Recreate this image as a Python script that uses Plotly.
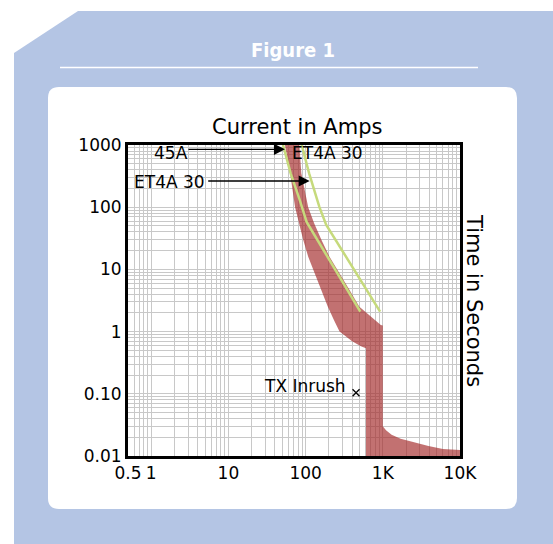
import numpy as np
import plotly.graph_objects as go

# ---------------- data ----------------
band_current = [54, 63, 73, 82, 93, 108, 131, 160, 194, 235, 275, 400, 520, 605, 605,
                10000, 10000, 6000, 3900, 2400, 1700, 1300, 1100, 1000, 1000, 942,
                497, 369, 275, 204, 160, 129, 108, 88, 83]
band_time = [1000, 350, 100, 55, 30, 16, 8.6, 4.7, 2.5, 1.5, 1.0, 0.70, 0.58, 0.54, 0.01,
             0.01, 0.0125, 0.013, 0.0145, 0.017, 0.019, 0.022, 0.026, 0.03, 1.25, 1.28,
             2.5, 4.7, 8.6, 16, 30, 55, 100, 350, 1000]

curve_a_current = [51, 64, 84, 103, 511]
curve_a_time = [1000, 350, 130, 58, 2.1]
curve_b_current = [89, 111, 151, 185, 922]
curve_b_time = [1000, 350, 100, 52, 2.1]

inrush_current = [450]
inrush_time = [0.104]

x_tick_vals = [0.5, 1, 10, 100, 1000, 10000]
x_tick_text = ["0.5", "1", "10", "100", "1K", "10K"]
y_tick_vals = [0.01, 0.1, 1, 10, 100, 1000]
y_tick_text = ["0.01", "0.10", "1", "10", "100", "1000"]

label_texts = ["45A", "ET4A 30", "ET4A 30", "TX Inrush"]
label_current = [1.79, 62.7, 5.35, 352]
label_time = [751, 735, 257, 0.133]
label_anchor = ["center", "left", "right", "right"]

arrow_current = [54, 113]
arrow_time = [851, 264]
arrow_tail_px = [-98, -103]

# ---------------- layout geometry ----------------
W, H = 553, 544
L, R, T, B = 128, 460, 145, 456


def px(x, y):
    return (x - L) / (R - L), (B - y) / (B - T)


def path(points):
    s = ""
    for cmd, x, y in points:
        xp, yp = px(x, y)
        s += f"{cmd}{xp:.5f},{yp:.5f} "
    return s + "Z"


def rounded_rect(x0, y0, x1, y1, r):
    def P(x, y):
        xp, yp = px(x, y)
        return f"{xp:.5f},{yp:.5f}"
    s = f"M{P(x0 + r, y0)} L{P(x1 - r, y0)} Q{P(x1, y0)} {P(x1, y0 + r)} "
    s += f"L{P(x1, y1 - r)} Q{P(x1, y1)} {P(x1 - r, y1)} "
    s += f"L{P(x0 + r, y1)} Q{P(x0, y1)} {P(x0, y1 - r)} "
    s += f"L{P(x0, y0 + r)} Q{P(x0, y0)} {P(x0 + r, y0)} Z"
    return s


BLUE = "#b4c5e4"
FONT = "DejaVu Sans"

fig = go.Figure()

fig.add_trace(go.Scatter(
    x=band_current, y=band_time, mode="lines", fill="toself",
    fillcolor="rgba(165,45,45,0.68)", line=dict(width=0), hoverinfo="skip",
    showlegend=False))

for cx, cy in [(curve_a_current, curve_a_time), (curve_b_current, curve_b_time)]:
    fig.add_trace(go.Scatter(x=cx, y=cy, mode="lines",
                             line=dict(color="#c6da7c", width=2.5),
                             showlegend=False, hoverinfo="skip"))

fig.add_trace(go.Scatter(x=inrush_current, y=inrush_time, mode="markers",
                         marker=dict(symbol="x-thin", size=7,
                                     line=dict(color="black", width=1.3)),
                         showlegend=False, hoverinfo="skip"))

shapes = [
    dict(type="path", xref="paper", yref="paper", layer="below",
         path=path([("M", 14, 53), ("L", 78, 11), ("L", 560, 11),
                    ("L", 560, 550), ("L", 14, 550)]),
         fillcolor=BLUE, line=dict(width=0)),
    dict(type="path", xref="paper", yref="paper", layer="below",
         path=rounded_rect(48, 87, 517, 509, 11),
         fillcolor="white", line=dict(width=0)),
]
x0p, y0p = px(60, 67.5)
x1p, _ = px(478, 67.5)
shapes.append(dict(type="line", xref="paper", yref="paper", layer="below",
                   x0=x0p, x1=x1p, y0=y0p, y1=y0p,
                   line=dict(color="white", width=1.5)))

annotations = []
fx, fy = px(293, 50)
annotations.append(dict(text="<b>Figure 1</b>", xref="paper", yref="paper",
                        x=fx, y=fy, showarrow=False, xanchor="center", yanchor="middle",
                        font=dict(family="DejaVu Sans Condensed, DejaVu Sans", size=20,
                                  color="white")))
tx, ty = px(297, 127)
annotations.append(dict(text="Current in Amps", xref="paper", yref="paper",
                        x=tx, y=ty, showarrow=False, xanchor="center", yanchor="middle",
                        font=dict(family=FONT, size=21, color="black")))
rx, ry = px(474, 300)
annotations.append(dict(text="Time in Seconds", xref="paper", yref="paper",
                        x=rx, y=ry, showarrow=False, textangle=90,
                        xanchor="center", yanchor="middle",
                        font=dict(family=FONT, size=21, color="black")))

for t, cx, cy, anc in zip(label_texts, label_current, label_time, label_anchor):
    annotations.append(dict(text=t, x=np.log10(cx), y=np.log10(cy),
                            xref="x", yref="y", showarrow=False, xanchor=anc,
                            yanchor="middle",
                            font=dict(family=FONT, size=17, color="black")))

for cx, cy, tail in zip(arrow_current, arrow_time, arrow_tail_px):
    annotations.append(dict(text="", x=np.log10(cx), y=np.log10(cy),
                            xref="x", yref="y", showarrow=True, ax=tail, ay=0,
                            arrowhead=2, arrowsize=1.7, arrowwidth=1.3,
                            arrowcolor="black", standoff=0, startstandoff=0))

minor_x = [k * 10.0 ** d for d in range(-1, 4) for k in range(2, 10)
           if 0.5 < k * 10.0 ** d < 10000]
minor_y = [k * 10.0 ** d for d in range(-2, 3) for k in range(2, 10)]

GRID = "#c8c8c8"
axis_common = dict(type="log", showline=True, mirror=True, linecolor="black",
                   linewidth=3, ticks="", showgrid=True, gridcolor=GRID,
                   gridwidth=1.2, zeroline=False,
                   tickfont=dict(family=FONT, size=17, color="black"))

fig.update_layout(
    width=W, height=H,
    margin=dict(l=L, r=W - R, t=T, b=H - B, pad=0),
    paper_bgcolor="white", plot_bgcolor="rgba(0,0,0,0)",
    shapes=shapes, annotations=annotations,
    xaxis=dict(range=[np.log10(0.5), 4], tickmode="array",
               tickvals=x_tick_vals, ticktext=x_tick_text,
               minor=dict(tickmode="array", tickvals=minor_x, showgrid=True,
                          gridcolor=GRID, gridwidth=1.2, ticks=""),
               **axis_common),
    yaxis=dict(range=[-2, 3], tickmode="array",
               tickvals=y_tick_vals, ticktext=y_tick_text,
               minor=dict(tickmode="array", tickvals=minor_y, showgrid=True,
                          gridcolor=GRID, gridwidth=1.2, ticks=""),
               **axis_common),
)

fig.write_html("out.html", config={"displayModeBar": False},
               post_script="document.body.style.margin='0';"
                           "document.body.style.overflow='hidden';")
